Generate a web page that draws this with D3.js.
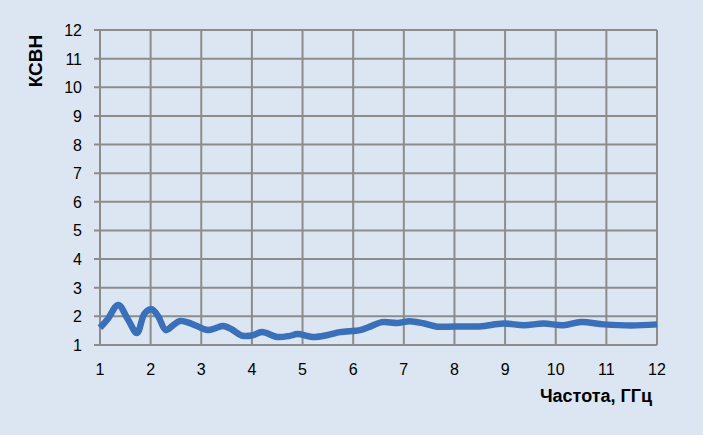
<!DOCTYPE html>
<html>
<head>
<meta charset="utf-8">
<script src="https://cdn.jsdelivr.net/npm/d3@7"></script>
<style>
  body { margin: 0; background: #dce6f2; }
  svg { display: block; font-family: "Liberation Sans", Arial, sans-serif; }
</style>
</head>
<body>
<svg width="703" height="435"></svg>
<script>
// frequency, GHz
var freq = [1, 1.15, 1.36, 1.55, 1.73, 1.88, 2.02, 2.15, 2.3, 2.45, 2.58, 2.8, 3.13, 3.3, 3.43, 3.6, 3.8, 4.0, 4.2, 4.5,
            4.75, 4.9, 5.2, 5.5, 5.74, 6.14, 6.3, 6.57, 6.87, 7.12, 7.4, 7.66, 8.0, 8.5, 8.97, 9.37, 9.76, 10.15, 10.5, 10.95, 11.5, 12];
// VSWR values
var vswr = [1.6, 1.9, 2.4, 1.9, 1.42, 2.1, 2.25, 2.0, 1.52, 1.7, 1.84, 1.75, 1.52, 1.6, 1.66, 1.55, 1.33, 1.33, 1.45, 1.28,
            1.32, 1.38, 1.28, 1.35, 1.45, 1.52, 1.62, 1.8, 1.77, 1.83, 1.75, 1.64, 1.65, 1.65, 1.75, 1.69, 1.75, 1.69, 1.8, 1.72, 1.68, 1.72];
var xTicks = [1, 2, 3, 4, 5, 6, 7, 8, 9, 10, 11, 12];
var yTicks = [1, 2, 3, 4, 5, 6, 7, 8, 9, 10, 11, 12];

var svg = d3.select("svg");
var x = d3.scaleLinear().domain([1, 12]).range([100, 657]);
var y = d3.scaleLinear().domain([1, 12]).range([345, 30]);

// horizontal grid with ticks sticking out on the left
svg.append("g").selectAll("line")
    .data(yTicks).enter().append("line")
    .attr("x1", 94).attr("x2", x(12))
    .attr("y1", d => y(d)).attr("y2", d => y(d))
    .style("stroke", "#8c8c8c").style("stroke-width", 2);

// vertical grid
svg.append("g").selectAll("line")
    .data(xTicks).enter().append("line")
    .attr("x1", d => x(d)).attr("x2", d => x(d))
    .attr("y1", y(12)).attr("y2", y(1))
    .style("stroke", "#8c8c8c").style("stroke-width", 2);

svg.append("g").selectAll("text")
    .data(yTicks).enter().append("text")
    .attr("x", 82).attr("y", d => y(d) + 6)
    .attr("text-anchor", "end")
    .style("font-size", "16px").style("fill", "#000")
    .text(d => d);

svg.append("g").selectAll("text")
    .data(xTicks).enter().append("text")
    .attr("x", d => x(d)).attr("y", 375)
    .attr("text-anchor", "middle")
    .style("font-size", "16px").style("fill", "#000")
    .text(d => d);

svg.append("text")
    .attr("transform", "translate(42,61) rotate(-90)")
    .attr("text-anchor", "middle")
    .style("font-size", "19px").style("font-weight", "bold")
    .text("КСВН");

svg.append("text")
    .attr("x", 596).attr("y", 402)
    .attr("text-anchor", "middle")
    .style("font-size", "18px").style("font-weight", "bold")
    .text("Частота, ГГц");

var line = d3.line()
    .x((d, i) => x(freq[i]))
    .y(d => y(d))
    .curve(d3.curveCatmullRom);

svg.append("path")
    .datum(vswr)
    .attr("d", line)
    .style("fill", "none")
    .style("stroke", "#3a70b9")
    .style("stroke-width", 6.5)
    .style("stroke-linejoin", "round");
</script>
</body>
</html>
